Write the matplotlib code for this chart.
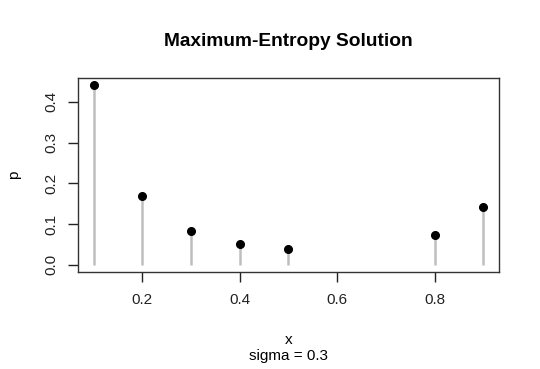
import matplotlib
matplotlib.use("Agg")
import matplotlib.pyplot as plt

x_vals = [0.1, 0.2, 0.3, 0.4, 0.5, 0.8, 0.9]
p_vals = [0.441, 0.169, 0.0825, 0.051, 0.0388, 0.073, 0.1425]
x_ticks = [0.2, 0.4, 0.6, 0.8]
y_ticks = [0.0, 0.1, 0.2, 0.3, 0.4]

plt.rcParams['font.family'] = ['Liberation Sans', 'DejaVu Sans']

fig = plt.figure(figsize=(5.4, 3.69), dpi=100)
ax = fig.add_axes([78/540, 1-272/369, (499-78)/540, (272-78)/369])

ax.vlines(x_vals, 0, p_vals, colors='#BEBEBE', linewidth=1.8)
ax.plot(x_vals, p_vals, 'o', color='black', markersize=5.5)

xr = max(x_vals) - min(x_vals)
ax.set_xlim(min(x_vals) - 0.04*xr, max(x_vals) + 0.04*xr)
yr = max(p_vals)
ax.set_ylim(-0.04*yr, yr + 0.04*yr)

ax.set_xticks(x_ticks)
ax.set_xticklabels([f"{v:.1f}" for v in x_ticks])
ax.set_yticks(y_ticks)
ax.set_yticklabels([f"{v:.1f}" for v in y_ticks], rotation=90, va='center')
ax.tick_params(axis='both', direction='out', length=7, width=1, labelsize=11, colors='#222222')
ax.tick_params(axis='x', pad=8)
ax.tick_params(axis='y', pad=7)
for s in ax.spines.values():
    s.set_linewidth(1.0)
    s.set_color('#333333')

fig.text(0.5*(78+499)/540, 1-41/369, "Maximum-Entropy Solution", ha='center', va='center',
         fontsize=13.8, fontweight='bold')
fig.text(0.5*(78+499)/540, 1-340/369, "x", ha='center', va='center', fontsize=11)
fig.text(0.5*(78+499)/540, 1-356/369, "sigma = 0.3", ha='center', va='center', fontsize=11)
fig.text(14/540, 1-175/369, "p", ha='center', va='center', fontsize=11, rotation=90)

fig.savefig("out.png", dpi=100)
